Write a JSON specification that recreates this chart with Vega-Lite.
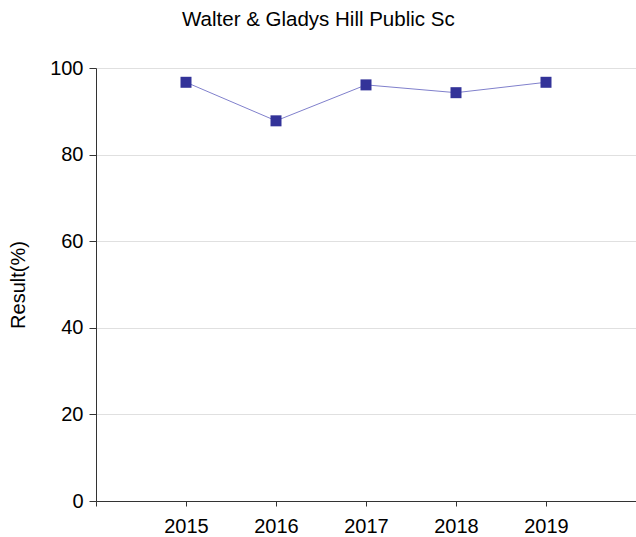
{
  "$schema": "https://vega.github.io/schema/vega-lite/v6.json",
  "autosize": "none",
  "width": 540,
  "height": 433,
  "padding": {"left": 96, "top": 68, "right": 0, "bottom": 36},
  "title": {"text": "Walter & Gladys Hill Public Sc", "anchor": "middle", "frame": "bounds", "font": "Liberation Sans", "fontSize": 20.5, "fontWeight": "normal", "color": "#000", "offset": 28, "dx": -4},
  "config": {"view": {"stroke": null}, "font": "Liberation Sans"},
  "data": {"values": [
    {"year": 2015, "result": 96.7},
    {"year": 2016, "result": 87.8},
    {"year": 2017, "result": 96.1},
    {"year": 2018, "result": 94.3},
    {"year": 2019, "result": 96.7}
  ]},
  "encoding": {
    "x": {"field": "year", "type": "quantitative", "scale": {"domain": [2014, 2020], "nice": false, "zero": false},
      "axis": {"title": null, "values": [2014, 2015, 2016, 2017, 2018, 2019], "labelExpr": "datum.value == 2014 ? '' : datum.value", "format": "d", "grid": false, "domainColor": "#333", "tickColor": "#333", "tickSize": 5, "labelFontSize": 20, "labelColor": "#000", "labelPadding": 10, "labelFont": "Liberation Sans"}},
    "y": {"field": "result", "type": "quantitative", "scale": {"domain": [0, 100], "nice": false},
      "axis": {"title": "Result(%)", "values": [0, 20, 40, 60, 80, 100], "titleFontSize": 20, "titleFontWeight": "normal", "titleColor": "#000", "titleFont": "Liberation Sans", "titlePadding": 21, "labelFontSize": 20, "labelColor": "#000", "labelFont": "Liberation Sans", "labelPadding": 6, "gridColor": "#e0e0e0", "domainColor": "#333", "tickColor": "#333", "tickSize": 7}}
  },
  "layer": [
    {"mark": {"type": "line", "color": "#8080cc", "strokeWidth": 1}},
    {"mark": {"type": "point", "shape": "square", "filled": true, "size": 121, "color": "#333399", "opacity": 1}}
  ]
}
